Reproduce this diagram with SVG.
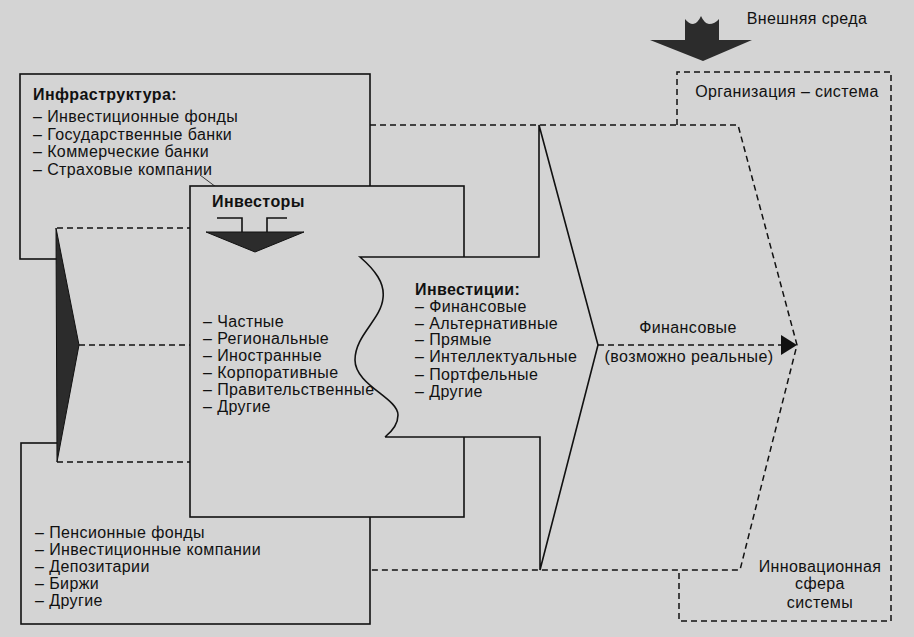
<svg xmlns="http://www.w3.org/2000/svg" width="914" height="637" viewBox="0 0 914 637">
<style>
text{font-family:"Liberation Sans",Arial,sans-serif;font-size:16px;fill:#111;letter-spacing:0.4px}
.b{font-weight:bold}
.s{fill:none;stroke:#111;stroke-width:1.6}
.box{fill:#d4d4d4;stroke:#111;stroke-width:1.6}
.bg{fill:#d4d4d4;stroke:none}
.d{fill:none;stroke:#111;stroke-width:1.5;stroke-dasharray:6 4}
.dk{fill:#2c2c2c;stroke:#111;stroke-width:1}
</style>
<rect width="914" height="637" fill="#d4d4d4"/>
<g id="infra-top"><rect class="box" x="20" y="74" width="350" height="185"/></g>
<g id="infra-bottom"><rect class="box" x="21" y="443" width="349" height="181"/></g>
<rect class="bg" x="57" y="228" width="133" height="234"/>
<g id="connectors">
<path class="d" d="M57,228H190M79,345H190M57,462H190"/>
<path class="d" d="M370,125H738L797,345L740,570H370"/>
<path class="d" d="M677,125V72H891V621H679V570"/>
<path class="d" d="M598,345H783"/>
<polygon points="781,335 797,345 781,355" fill="#111"/>
<line x1="200" y1="175" x2="216" y2="187" stroke="#111" stroke-width="0.8"/>
</g>
<g id="investors"><rect class="box" x="190" y="186" width="274" height="331"/>
<polyline class="s" points="217,218 242,218 242,232"/>
<polyline class="s" points="267,232 267,218 287,218"/>
<polygon class="dk" points="206,232 304,232 255,252"/>
</g>
<g id="investments">
<path class="bg" d="M360,257H574L598,345L574,437H385C390,433 398,425 398,415C398,398 355,385 355,360C355,335 381,320 383,298C385,283 375,270 360,257Z"/>
<path class="s" d="M385,437C390,433 398,425 398,415C398,398 355,385 355,360C355,335 381,320 383,298C385,283 375,270 360,257H539V125L598,345L540,570V437H385"/>
</g>
<g id="left-arrow"><polygon class="dk" points="56,228 79,345 57,462"/></g>
<g id="env-arrow">
<path fill="#2c2c2c" d="M685,40V19Q689,24 693,24Q698,23 701,16Q704,23 709,24Q715,24 719,19V40H752L703,61L650,40Z"/>
</g>
<g id="texts">
<text x="33" y="100" class="b">Инфраструктура:</text>
<text x="33" y="122">– Инвестиционные фонды</text>
<text x="33" y="139.5">– Государственные банки</text>
<text x="33" y="157">– Коммерческие банки</text>
<text x="33" y="174.5">– Страховые компании</text>
<text x="212" y="207" class="b">Инвесторы</text>
<text x="203" y="327">– Частные</text>
<text x="203" y="344">– Региональные</text>
<text x="203" y="361">– Иностранные</text>
<text x="203" y="378">– Корпоративные</text>
<text x="203" y="395">– Правительственные</text>
<text x="203" y="412">– Другие</text>
<text x="415" y="295" class="b">Инвестиции:</text>
<text x="415" y="312">– Финансовые</text>
<text x="415" y="328.5">– Альтернативные</text>
<text x="415" y="345">– Прямые</text>
<text x="415" y="362">– Интеллектуальные</text>
<text x="415" y="380">– Портфельные</text>
<text x="415" y="397">– Другие</text>
<text x="35" y="538">– Пенсионные фонды</text>
<text x="35" y="555">– Инвестиционные компании</text>
<text x="35" y="572">– Депозитарии</text>
<text x="35" y="588.5">– Биржи</text>
<text x="35" y="606">– Другие</text>
<text x="688" y="333" text-anchor="middle">Финансовые</text>
<text x="689" y="362" text-anchor="middle">(возможно реальные)</text>
<text x="787" y="97" text-anchor="middle">Организация – система</text>
<text x="807" y="24" text-anchor="middle">Внешняя среда</text>
<text x="820" y="572" text-anchor="middle">Инновационная</text>
<text x="820" y="589" text-anchor="middle">сфера</text>
<text x="820" y="608" text-anchor="middle">системы</text>
</g>
</svg>
